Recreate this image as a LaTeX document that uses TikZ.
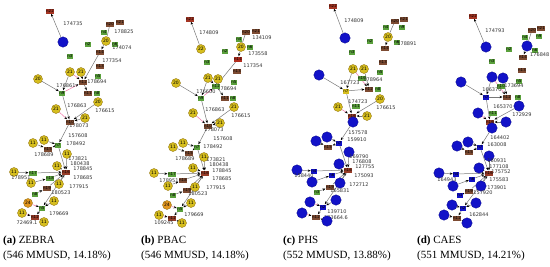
\documentclass[tikz,border=0pt]{standalone}
\usepackage{fontspec}
\setmainfont{Liberation Serif}
\newfontfamily\dejavu{DejaVu Sans}
\usetikzlibrary{arrows.meta,backgrounds}
\definecolor{ycol}{RGB}{214,190,30}
\definecolor{yedge}{RGB}{150,120,20}
\definecolor{ocol}{RGB}{226,150,30}
\definecolor{bcol}{RGB}{18,18,200}
\definecolor{gcol}{RGB}{90,160,60}
\definecolor{rcol}{RGB}{125,75,50}
\definecolor{ecol}{RGB}{120,120,120}
\definecolor{pkcol}{RGB}{240,120,170}
\definecolor{labcol}{RGB}{50,50,50}
\tikzset{
 yn/.style={circle, fill=ycol, draw=yedge, line width=0.4pt, minimum size=9pt, inner sep=0pt, font=\fontsize{4.5}{4.5}\selectfont\dejavu},
 orn/.style={yn, fill=ocol},
 bn/.style={circle, fill=bcol, draw=bcol!70!black, line width=0.3pt, minimum size=10.5pt, inner sep=0pt},
 gn/.style={rectangle, fill=gcol, inner sep=0.5pt, minimum width=6pt, minimum height=5pt, font=\fontsize{4}{4}\selectfont\dejavu},
 rn/.style={gn, fill=rcol},
 xn/.style={gn, fill=bcol, text=black},
 yb/.style={gn, fill=ycol},
 lab/.style={font=\fontsize{5}{5}\selectfont\dejavu, text=labcol, inner sep=0pt},
 ed/.style={draw=ecol, line width=0.5pt, -{Stealth[black,length=3pt,width=2.4pt]}},
 pk/.style={ed, draw=pkcol},
 ln/.style={draw=ecol, line width=0.5pt},
 captx/.style={anchor=west, inner sep=0pt, font=\fontsize{11}{13}\selectfont}
}
\begin{document}
\begin{tikzpicture}[x=1pt,y=-1pt]
\useasboundingbox (0,0) rectangle (550,266);
% ================= panel a =================
\node[rn, fill=rcol!70!red] (aT) at (50,11) {n22};
\node[bn] (aA) at (63,42) {};
\node[lab] (aL1) at (73,24) {174735};
\node[rn] (aR1) at (110,24) {n20};
\node[rn] (aR2) at (120,22) {n21};
\node[gn] (aG4) at (104,32) {n4};
\node[lab] (aL2) at (124,32) {178825};
\node[yn] (aC) at (106,41) {20};
\node[gn] (aG2) at (88,44) {n2};
\node[gn] (aG6) at (115,44) {n6};
\node[lab] (aL3) at (122,48) {174074};
\node[rn] (aR3) at (100,52) {n14};
\node[lab] (aL4) at (112,61) {177354};
\node[rn] (aR13) at (100,66) {n13};
\node[gn] (aG3) at (70,56) {n3};
\node[yn] (aY1) at (70,72) {21};
\node[yn] (aY2) at (81,72) {21};
\node[gn] (aG5) at (98,76) {n5};
\node[rn] (aR12) at (83,82) {n12};
\node[lab] (aL5) at (97,82) {178694};
\node[yn] (aY3) at (38,79) {20};
\node[lab] (aL6) at (66,86) {176861};
\node[gn] (aM) at (62,93) {n9};
\node[rn] (aR11) at (88,93) {n11};
\node[gn] (aG8) at (97,93) {n8};
\node[yn] (aY4) at (98,102) {20};
\node[yn] (aY5) at (56,109) {21};
\node[lab] (aL7) at (77,106) {176863};
\node[lab] (aL8) at (105,111) {176615};
\node[rn] (aK) at (70,122) {n10};
\node[yn] (aY6) at (85,118) {21};
\node[lab] (aL9) at (79,126) {178073};
\node[lab] (aL10) at (78,136) {157608};
\node[yn] (aY7) at (33,143) {11};
\node[yn] (aY8) at (44,140) {11};
\node[gn] (aN) at (58,145) {n7};
\node[lab] (aL11) at (76,144) {178492};
\node[rn] (aR4) at (48,149) {n15};
\node[lab] (aL12) at (44,154.5) {178689};
\node[yn] (aY9) at (67,154) {11};
\node[lab] (aL13) at (78,159) {173821};
\node[lab] (aL14) at (80,164) {180438};
\node[lab] (aL15) at (83,169) {178845};
\node[rn, fill=rcol!80!red] (aP) at (66,172) {n16};
\node[yn] (aY10) at (57,166) {11};
\node[yn] (aY11) at (14,172) {11};
\node[gn] (aQ) at (33,173) {n17};
\node[lab] (aL16) at (83,178) {178685};
\node[gn] (aS) at (50,178) {n18};
\node[lab] (aL17) at (21,178) {178951};
\node[yn] (aY12) at (31,183) {11};
\node[yn] (aY13) at (59,184) {11};
\node[lab] (aL18) at (79,187) {177915};
\node[rn] (aU) at (47,188) {n19};
\node[lab] (aL19) at (61,193) {180523};
\node[gn] (aV) at (35,194) {n8};
\node[yn] (aY14) at (54,201) {11};
\node[orn] (aY15) at (28,203) {24};
\node[gn] (aW) at (42,208) {n5};
\node[lab] (aL20) at (59,214) {179669};
\node[yn] (aY16) at (22,213) {11};
\node[rn, fill=rcol!80!red] (aX) at (35,217) {n12};
\node[lab] (aL21) at (27,223) {72469.1};
\node[yn] (aY17) at (44,222) {11};
\begin{scope}[on background layer]
\draw[ed] (aA) -- (aT);
\draw[ln] (aR1) -- (aC);
\draw[ed] (aC) -- (aR3);
\draw[ed] (aR3) -- (aR12);
\draw[pk] (aY1) -- (aR12);
\draw[ed] (aY2) -- (aR12);
\draw[ed] (aY3) -- (aM);
\draw[ed] (aY1) -- (aM);
\draw[pk] (aM) -- (aR12);
\draw[ed] (aR12) -- (aR11);
\draw[ed] (aM) -- (aK);
\draw[ed] (aY4) -- (aK);
\draw[pk] (aY5) -- (aK);
\draw[ed] (aY6) -- (aK);
\draw[ed] (aK) -- (aN);
\draw[ed] (aY8) -- (aN);
\draw[ed] (aY7) -- (aR4);
\draw[ed] (aN) -- (aR4);
\draw[ed] (aN) -- (aP);
\draw[ed] (aY9) -- (aP);
\draw[ed] (aY10) -- (aP);
\draw[ed] (aY13) -- (aP);
\draw[ed] (aY11) -- (aQ);
\draw[ed] (aQ) -- (aP);
\draw[ed] (aY12) -- (aS);
\draw[ed] (aS) -- (aP);
\draw[ed] (aU) -- (aP);
\draw[ed] (aV) -- (aU);
\draw[ed] (aP) -- (aW);
\draw[ed] (aY14) -- (aW);
\draw[pk] (aY15) -- (aW);
\draw[ed] (aW) -- (aX);
\draw[pk] (aY16) -- (aX);
\draw[ed] (aY17) -- (aX);
\end{scope}
% ================= panel b =================
\node[rn, fill=rcol!70!red] (bT) at (190,19) {n22};
\node[yn] (bA) at (201,49) {22};
\node[lab] (bL1) at (209,33) {174809};
\node[rn] (bR1) at (246,32) {n20};
\node[rn] (bR2) at (256,31) {n21};
\node[lab] (bL2) at (262,38) {134109};
\node[gn] (bG4) at (239,39) {n4};
\node[yn] (bC) at (241,47) {20};
\node[gn] (bG6) at (250,47) {n6};
\node[lab] (bL3) at (258,54) {173558};
\node[rn, fill=rcol!60!red] (bR3) at (238,59) {n14};
\node[lab] (bL4) at (253,66) {117354};
\node[rn] (bR13) at (237,71) {n13};
\node[gn] (bG2) at (225,51) {n2};
\node[gn] (bG3) at (207,62) {n3};
\node[yn] (bY1) at (208,78) {21};
\node[yn] (bY2) at (218,79) {21};
\node[gn] (bG5) at (234,82) {n5};
\node[lab] (bL5) at (227,89) {178694};
\node[gn] (bR12) at (216,86) {n12};
\node[yn] (bY3) at (176,83) {20};
\node[lab] (bL6) at (206,92) {176600};
\node[gn] (bM) at (201,98) {n9};
\node[rn] (bR11) at (225,98) {n11};
\node[gn] (bG8) at (233,98) {n8};
\node[yn] (bY4) at (234,107) {21};
\node[yn] (bY5) at (193,113) {21};
\node[lab] (bL7) at (215,110) {176863};
\node[lab] (bL8) at (241,116) {176615};
\node[rn] (bK) at (208,126) {n10};
\node[yn] (bY6) at (220,123) {21};
\node[lab] (bL9) at (214,130) {178073};
\node[lab] (bL10) at (223,139) {157608};
\node[yn] (bY7) at (173,147) {11};
\node[yn] (bY8) at (183,143) {11};
\node[gn] (bN) at (197,147) {n7};
\node[lab] (bL11) at (213,147) {178492};
\node[rn] (bR4) at (189,153) {n15};
\node[lab] (bL12) at (185,158.5) {178689};
\node[yn] (bY9) at (204,157) {11};
\node[lab] (bL13) at (216,160) {173821};
\node[lab] (bL14) at (219,165) {180438};
\node[lab] (bL15) at (222,171) {178845};
\node[rn, fill=rcol!80!red] (bP) at (205,173) {n16};
\node[yn] (bY10) at (193,168) {11};
\node[yn] (bY11) at (154,173) {11};
\node[gn] (bQ) at (172,174) {n17};
\node[lab] (bL16) at (222,179) {178685};
\node[rn] (bS) at (183,180) {n18};
\node[lab] (bL17) at (169,181) {178951};
\node[yn] (bY12) at (168,186) {11};
\node[yn] (bY13) at (195,187) {11};
\node[lab] (bL18) at (216,188) {177915};
\node[rn] (bU) at (187,190) {n19};
\node[lab] (bL19) at (198,194) {180523};
\node[gn] (bV) at (173,195) {n8};
\node[yn] (bY14) at (191,203) {11};
\node[orn] (bY15) at (167,205) {24};
\node[gn] (bW) at (180,209) {n5};
\node[lab] (bL20) at (194,215) {179669};
\node[yn] (bY16) at (159,215) {11};
\node[rn, fill=rcol!80!red] (bX) at (172,218) {n12};
\node[lab] (bL21) at (164,223) {109245};
\node[yn] (bY17) at (182,223) {11};
\begin{scope}[on background layer]
\draw[ed] (bA) -- (bT);
\draw[ln] (bR1) -- (bC);
\draw[ed] (bC) -- (bR3);
\draw[ed] (bR3) -- (bR12);
\draw[pk] (bY1) -- (bR12);
\draw[ed] (bY2) -- (bR12);
\draw[ed] (bY3) -- (bM);
\draw[ed] (bY1) -- (bM);
\draw[pk] (bM) -- (bR12);
\draw[ed] (bR12) -- (bR11);
\draw[ed] (bM) -- (bK);
\draw[ed] (bY4) -- (bK);
\draw[pk] (bY5) -- (bK);
\draw[ed] (bY6) -- (bK);
\draw[ed] (bK) -- (bN);
\draw[ed] (bY8) -- (bN);
\draw[ed] (bY7) -- (bR4);
\draw[ed] (bN) -- (bR4);
\draw[ed] (bN) -- (bP);
\draw[ed] (bY9) -- (bP);
\draw[ed] (bY10) -- (bP);
\draw[ed] (bY13) -- (bP);
\draw[ed] (bY11) -- (bQ);
\draw[ed] (bQ) -- (bP);
\draw[ed] (bY12) -- (bS);
\draw[ed] (bS) -- (bP);
\draw[ed] (bU) -- (bP);
\draw[ed] (bV) -- (bU);
\draw[ed] (bP) -- (bW);
\draw[ed] (bY14) -- (bW);
\draw[pk] (bY15) -- (bW);
\draw[ed] (bW) -- (bX);
\draw[pk] (bY16) -- (bX);
\draw[ed] (bY17) -- (bX);
\end{scope}
% ================= panel c =================
\node[rn, fill=rcol!70!red] (cT) at (333,6) {n22};
\node[bn] (cA) at (345,38) {};
\node[lab] (cL1) at (354,21) {174809};
\node[rn] (cR1) at (395,21) {n20};
\node[rn] (cR2) at (404,19) {n21};
\node[gn] (cG4) at (386,27) {n4};
\node[gn] (cG9) at (402,27) {n9};
\node[yn] (cC) at (388,37) {20};
\node[gn] (cG6) at (397,42) {n6};
\node[lab] (cL3) at (407,44) {178891};
\node[rn] (cR3) at (385,48) {n14};
\node[gn] (cG2) at (370,41) {n2};
\node[gn] (cG3) at (352,52) {n3};
\node[rn] (cR13) at (383,62) {n13};
\node[gn] (cG5) at (380,72) {n5};
\node[yn] (cY1) at (353,69) {21};
\node[yn] (cY2) at (364,69) {21};
\node[bn] (cY3) at (319,75) {};
\node[gn] (cG10) at (362,78) {n10};
\node[lab] (cL5) at (373,80) {178964};
\node[lab] (cL6) at (350,83) {167723};
\node[yb] (cM) at (346,91) {n7};
\node[rn] (cR12) at (369,89) {n12};
\node[gn] (cG8) at (378,89) {n8};
\node[yn] (cY4) at (380,99) {20};
\node[yn] (cY5) at (338,107) {21};
\node[gn] (cG11) at (356,106) {n11};
\node[lab] (cL7) at (358,102) {174723};
\node[lab] (cL8) at (386,108) {176615};
\node[rn, fill=rcol!80!red] (cK) at (352,116) {n16};
\node[yn] (cY6) at (367,116) {21};
\node[bn] (cB1) at (353,122) {};
\node[lab] (cL10) at (358,133) {157578};
\node[bn] (cY7) at (316,141) {};
\node[bn] (cY8) at (327,137) {};
\node[xn] (cN) at (339,143) {n7};
\node[lab] (cL11) at (357,140) {159910};
\node[rn] (cR4) at (328,147) {n15};
\node[bn] (cY9) at (349,152) {};
\node[lab] (cL13) at (359,157) {169790};
\node[lab] (cL14) at (362,162) {176808};
\node[lab] (cL15) at (365,167) {127755};
\node[rn, fill=rcol!80!red] (cP) at (348,170) {n16};
\node[bn] (cY10) at (339,164) {};
\node[bn] (cY11) at (297,170) {};
\node[xn] (cQ) at (314,171) {n4};
\node[lab] (cL17) at (304,176) {158440};
\node[xn] (cS) at (332,175) {n6};
\node[lab] (cL16) at (364,176) {175093};
\node[bn] (cY12) at (312,182) {};
\node[bn] (cY13) at (340,183) {};
\node[lab] (cL18) at (359,185) {172712};
\node[rn] (cU) at (330,187) {n19};
\node[lab] (cL19) at (340,191) {165831};
\node[gn] (cV) at (317,192) {n3};
\node[bn] (cY14) at (336,200) {};
\node[bn] (cY15) at (310,202) {};
\node[xn] (cW) at (323,207) {n2};
\node[lab] (cL20) at (337,212) {139710};
\node[bn] (cY16) at (302,213) {};
\node[rn] (cX) at (316,217) {n12};
\node[lab] (cL21) at (336,218) {133664.6};
\node[bn] (cY17) at (327,221) {};
\begin{scope}[on background layer]
\draw[ed] (cA) -- (cT);
\draw[ln] (cR1) -- (cC);
\draw[ed] (cC) -- (cR3);
\draw[ed] (cY3) -- (cM);
\draw[ed] (cY1) -- (cM);
\draw[pk] (cY1) -- (cR12);
\draw[ed] (cY2) -- (cR12);
\draw[ed] (cM) -- (cR12);
\draw[ed] (cM) -- (cK);
\draw[ed] (cY4) -- (cK);
\draw[pk] (cY5) -- (cK);
\draw[ed] (cY6) -- (cK);
\draw[ed] (cB1) -- (cN);
\draw[ed] (cY8) -- (cN);
\draw[ed] (cY7) -- (cR4);
\draw[ed] (cN) -- (cR4);
\draw[ed] (cN) -- (cP);
\draw[ed] (cY9) -- (cP);
\draw[ed] (cY10) -- (cP);
\draw[ed] (cY13) -- (cP);
\draw[ed] (cY11) -- (cQ);
\draw[ed] (cQ) -- (cP);
\draw[ed] (cY12) -- (cS);
\draw[ed] (cS) -- (cP);
\draw[ed] (cU) -- (cP);
\draw[ed] (cV) -- (cU);
\draw[ed] (cP) -- (cW);
\draw[ed] (cY14) -- (cW);
\draw[pk] (cY15) -- (cW);
\draw[ed] (cW) -- (cX);
\draw[pk] (cY16) -- (cX);
\draw[ed] (cY17) -- (cX);
\end{scope}
% ================= panel d =================
\node[rn, fill=rcol!70!red] (dT) at (473,16) {n22};
\node[bn] (dA) at (486,47) {};
\node[lab] (dL1) at (495,31) {174793};
\node[rn] (dR1) at (532,30) {n20};
\node[rn] (dR2) at (541,28) {n21};
\node[gn] (dG4) at (525,37) {n4};
\node[gn] (dG9) at (539,36) {n9};
\node[bn] (dC) at (527,46) {};
\node[gn] (dG6) at (535,50) {n6};
\node[lab, anchor=east] (dL3) at (549.5,55) {176848};
\node[rn] (dR3) at (523,57) {n14};
\node[gn] (dG2) at (509,49) {n2};
\node[gn] (dG3) at (492,61) {n3};
\node[rn] (dR13) at (522,70) {n13};
\node[gn] (dG5) at (519,81) {n5};
\node[bn] (dY1) at (492,77) {};
\node[bn] (dY2) at (503,78) {};
\node[bn] (dY3) at (461,82) {};
\node[gn] (dG10) at (501,86) {n10};
\node[lab] (dL5) at (514,86) {173694};
\node[lab] (dL6) at (492,90) {166370};
\node[xn] (dM) at (486,97) {n7};
\node[rn] (dR12) at (507,97) {n12};
\node[gn] (dG8) at (518,97) {n8};
\node[bn] (dY4) at (519,106) {};
\node[bn] (dY5) at (478,113) {};
\node[gn] (dG11) at (493,113) {n11};
\node[lab] (dL7) at (503,107) {165370};
\node[lab] (dL8) at (522,115) {172929};
\node[rn, fill=rcol!80!red] (dK) at (490,122) {n16};
\node[bn] (dY6) at (506,122) {};
\node[bn] (dB1) at (492,128) {};
\node[lab] (dL10) at (500,138) {164402};
\node[bn] (dY7) at (457,146) {};
\node[bn] (dY8) at (468,142) {};
\node[xn] (dN) at (480,147) {n7};
\node[lab] (dL11) at (497,145) {163008};
\node[rn] (dR4) at (469,152) {n15};
\node[bn] (dY9) at (489,156) {};
\node[lab] (dL13) at (497,161) {160931};
\node[lab] (dL14) at (499,167) {177108};
\node[lab] (dL15) at (501,172) {175752};
\node[rn, fill=rcol!80!red] (dP) at (489,173) {n16};
\node[bn] (dY10) at (479,168) {};
\node[bn] (dY11) at (439,173) {};
\node[xn] (dQ) at (456,174) {n4};
\node[lab] (dL17) at (447,180) {164943};
\node[xn] (dS) at (472,179) {n6};
\node[lab] (dL16) at (499,180) {175583};
\node[bn] (dY12) at (453,186) {};
\node[bn] (dY13) at (481,186) {};
\node[lab] (dL18) at (497,188) {173901};
\node[rn] (dU) at (469,191) {n19};
\node[lab] (dL19) at (483,193) {157920};
\node[xn] (dV) at (460,195) {n3};
\node[bn] (dY14) at (476,203) {};
\node[bn] (dY15) at (452,205) {};
\node[xn] (dW) at (463,208) {n2};
\node[lab] (dL20) at (479,215) {162844};
\node[bn] (dY16) at (444,215) {};
\node[rn] (dX) at (457,218) {n12};
\node[bn] (dY17) at (467,223) {};
\begin{scope}[on background layer]
\draw[ed] (dA) -- (dT);
\draw[ln] (dR1) -- (dC);
\draw[ed] (dC) -- (dR3);
\draw[ed] (dY3) -- (dM);
\draw[ed] (dY1) -- (dM);
\draw[pk] (dY1) -- (dR12);
\draw[ed] (dY2) -- (dR12);
\draw[ed] (dM) -- (dR12);
\draw[ed] (dM) -- (dK);
\draw[ed] (dY4) -- (dK);
\draw[pk] (dY5) -- (dK);
\draw[ed] (dY6) -- (dK);
\draw[ed] (dB1) -- (dN);
\draw[ed] (dY8) -- (dN);
\draw[ed] (dY7) -- (dR4);
\draw[ed] (dN) -- (dR4);
\draw[ed] (dN) -- (dP);
\draw[ed] (dY9) -- (dP);
\draw[ed] (dY10) -- (dP);
\draw[ed] (dY13) -- (dP);
\draw[ed] (dY11) -- (dQ);
\draw[ed] (dQ) -- (dP);
\draw[ed] (dY12) -- (dS);
\draw[ed] (dS) -- (dP);
\draw[ed] (dU) -- (dP);
\draw[ed] (dV) -- (dU);
\draw[ed] (dP) -- (dW);
\draw[ed] (dY14) -- (dW);
\draw[pk] (dY15) -- (dW);
\draw[ed] (dW) -- (dX);
\draw[pk] (dY16) -- (dX);
\draw[ed] (dY17) -- (dX);
\end{scope}
% ================= captions =================
\node[captx] (capa1) at (3,241) {\textbf{(a)} ZEBRA};
\node[captx] (capa2) at (3,256) {(546 MMUSD, 14.18\%)};
\node[captx] (capb1) at (141,241) {\textbf{(b)} PBAC};
\node[captx] (capb2) at (141,256) {(546 MMUSD, 14.18\%)};
\node[captx] (capc1) at (283,241) {\textbf{(c)} PHS};
\node[captx] (capc2) at (283,256) {(552 MMUSD, 13.88\%)};
\node[captx] (capd1) at (417,241) {\textbf{(d)} CAES};
\node[captx] (capd2) at (417,256) {(551 MMUSD, 14.21\%)};
\end{tikzpicture}
\end{document}
